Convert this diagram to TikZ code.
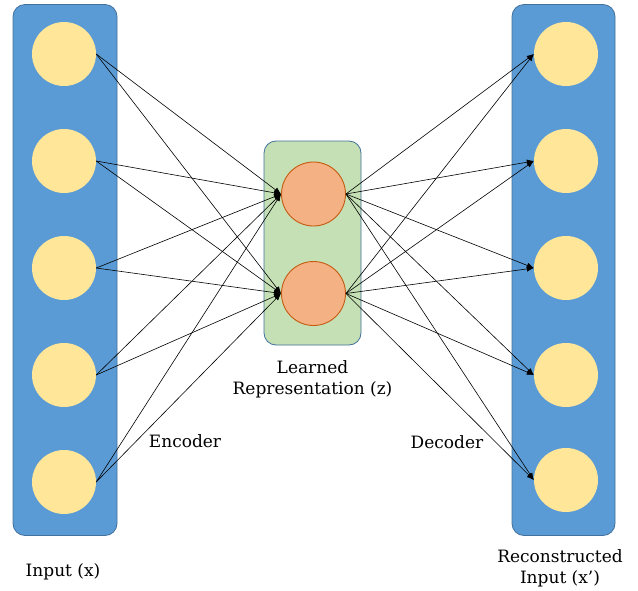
\documentclass[tikz,border=0pt]{standalone}
\usepackage{fontspec}
\setmainfont{DejaVu Serif}
\usetikzlibrary{arrows.meta}
\definecolor{barblue}{HTML}{5B9BD5}
\definecolor{bordblue}{HTML}{41719C}
\definecolor{unityellow}{HTML}{FFE699}
\definecolor{codegreen}{HTML}{C5E0B4}
\definecolor{codeorange}{HTML}{F4B183}
\definecolor{rimorange}{HTML}{C55A11}
\begin{document}
\begin{tikzpicture}[x=1pt, y=-1pt, >={Latex[length=7pt,width=5.5pt]}]

\tikzstyle{layer} = [rectangle, draw=bordblue, fill=barblue, rounded corners=12pt, line width=0.8pt, inner sep=0]
\tikzstyle{code} = [rectangle, draw=bordblue, fill=codegreen, rounded corners=12pt, line width=0.8pt, inner sep=0]
\tikzstyle{unit} = [circle, fill=unityellow, minimum size=64pt, inner sep=0]
\tikzstyle{latent} = [circle, draw=rimorange, fill=codeorange, line width=0.9pt, minimum size=64pt, inner sep=0]
\tikzstyle{lbl} = [font=\fontsize{17}{21}\selectfont, align=center]

\useasboundingbox (0,0) rectangle (638,590);

\node[layer, minimum width=104pt, minimum height=531pt] (inbar) at (65,270) {};
\node[layer, minimum width=103pt, minimum height=531pt] (outbar) at (563.5,270) {};
\node[code, minimum width=97pt, minimum height=204pt] (zbox) at (312.5,243) {};

\node[unit] (i1) at (64,54) {};
\node[unit] (i2) at (64,161) {};
\node[unit] (i3) at (64,268) {};
\node[unit] (i4) at (64,375) {};
\node[unit] (i5) at (64,482) {};

\node[latent] (z1) at (313.5,194) {};
\node[latent] (z2) at (313.5,293.5) {};

\node[unit] (o1) at (566,54) {};
\node[unit] (o2) at (566,161) {};
\node[unit] (o3) at (566,268) {};
\node[unit] (o4) at (566,375) {};
\node[unit] (o5) at (566,480) {};

\node[lbl] (inlbl) at (63,572) {Input (x)};
\node[lbl] (zlbl) at (312.5,379) {Learned\\Representation (z)};
\node[lbl] (outlbl) at (560,568) {Reconstructed\\Input (x’)};
\node[lbl] (enc) at (185,441) {Encoder};
\node[lbl] (dec) at (447,442) {Decoder};

\draw[->, line width=0.6pt] (i1.east) -- (z1.west);
\draw[->, line width=0.6pt] (i1.east) -- (z2.west);
\draw[->, line width=0.6pt] (i2.east) -- (z1.west);
\draw[->, line width=0.6pt] (i2.east) -- (z2.west);
\draw[->, line width=0.6pt] (i3.east) -- (z1.west);
\draw[->, line width=0.6pt] (i3.east) -- (z2.west);
\draw[->, line width=0.6pt] (i4.east) -- (z1.west);
\draw[->, line width=0.6pt] (i4.east) -- (z2.west);
\draw[->, line width=0.6pt] (i5.east) -- (z1.west);
\draw[->, line width=0.6pt] (i5.east) -- (z2.west);

\draw[->, line width=0.6pt] (z1.east) -- (o1.west);
\draw[->, line width=0.6pt] (z1.east) -- (o2.west);
\draw[->, line width=0.6pt] (z1.east) -- (o3.west);
\draw[->, line width=0.6pt] (z1.east) -- (o4.west);
\draw[->, line width=0.6pt] (z1.east) -- (o5.west);
\draw[->, line width=0.6pt] (z2.east) -- (o1.west);
\draw[->, line width=0.6pt] (z2.east) -- (o2.west);
\draw[->, line width=0.6pt] (z2.east) -- (o3.west);
\draw[->, line width=0.6pt] (z2.east) -- (o4.west);
\draw[->, line width=0.6pt] (z2.east) -- (o5.west);

\end{tikzpicture}
\end{document}
